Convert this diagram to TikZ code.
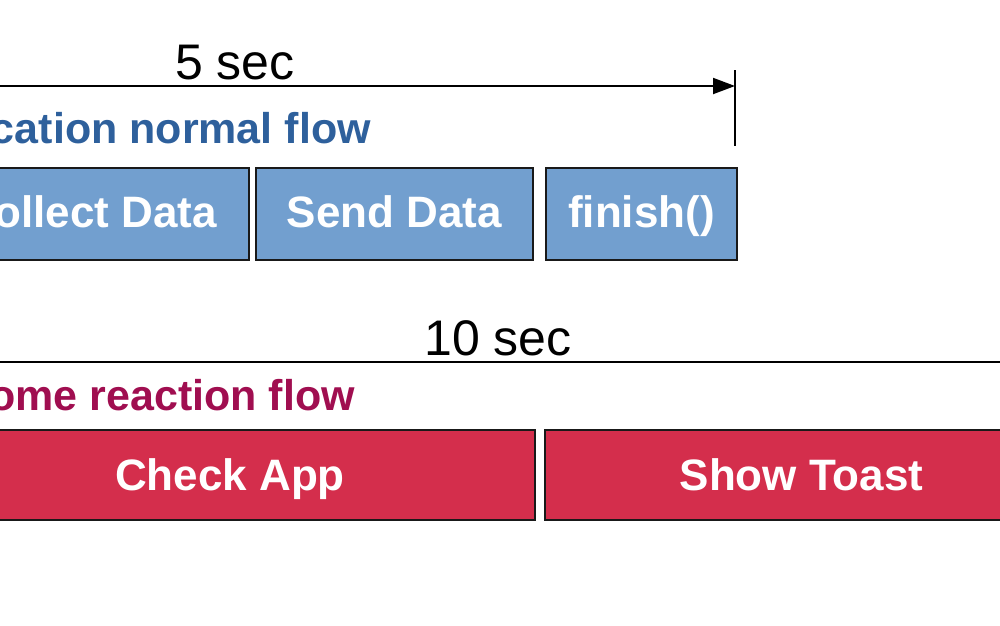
\documentclass[tikz,border=0pt]{standalone}
\usepackage{fontspec}
\setmainfont{Liberation Sans}
\usetikzlibrary{arrows.meta}
\definecolor{boxblue}{RGB}{114,159,207}
\definecolor{boxred}{RGB}{212,46,76}
\definecolor{lblblue}{RGB}{46,96,156}
\definecolor{lblred}{RGB}{160,14,80}
\definecolor{edge}{RGB}{25,25,25}
\tikzset{
  stagebox/.style={draw=edge, line width=2pt, inner sep=0pt, text=white,
    font=\fontsize{44}{50}\selectfont\bfseries, text depth=0pt},
  bluebox/.style={stagebox, fill=boxblue, minimum height=92pt, text height=26pt},
  redbox/.style={stagebox, fill=boxred, minimum height=90pt, text height=30pt},
  flowlabel/.style={inner sep=0pt, anchor=base east, font=\fontsize{43}{50}\selectfont\bfseries},
  timelabel/.style={inner sep=0pt, anchor=base, font=\fontsize{50}{56}\selectfont},
  timeline/.style={line width=2pt, draw=black}
}
\begin{document}
\begin{tikzpicture}[x=1pt, y=-1pt]
\useasboundingbox (0,0) rectangle (1000,625);
\clip (0,0) rectangle (1000,625);
% top row
\node[timelabel] (t5) at (235,79) {5 sec};
\coordinate (a5s) at (-80,86);
\coordinate (a5e) at (735,86);
\coordinate (tickTop) at (735,70);
\coordinate (tickBot) at (735,146);
\draw[timeline, -{Triangle[length=22pt,width=16pt]}] (a5s) -- (a5e);
\draw[line width=2pt] (tickTop) -- (tickBot);
\node[flowlabel, text=lblblue] (lbl1) at (371,143) {cation normal flow};
\node[bluebox, minimum width=318pt] (collect) at (90,214) {Collect Data};
\node[bluebox, minimum width=277pt] (send) at (394.5,214) {Send Data};
\node[bluebox, minimum width=191pt] (finish) at (641.5,214) {finish()};
% bottom row
\node[timelabel] (t10) at (498,355) {10 sec};
\coordinate (a10s) at (-80,362);
\coordinate (a10e) at (1080,362);
\draw[timeline] (a10s) -- (a10e);
\node[flowlabel, text=lblred] (lbl2) at (355,410) {ome reaction flow};
\node[redbox, minimum width=610pt] (check) at (230,475) {Check App};
\node[redbox, minimum width=513pt] (toast) at (801.5,475) {Show Toast};
\end{tikzpicture}
\end{document}
